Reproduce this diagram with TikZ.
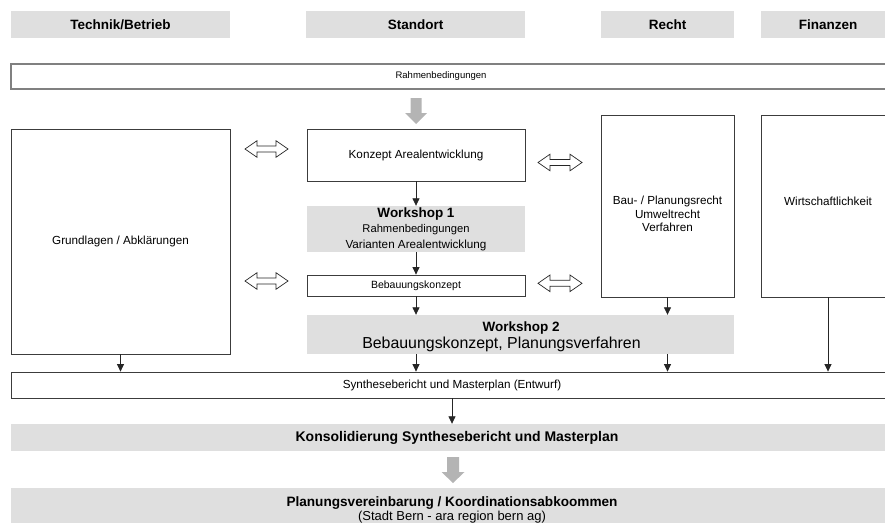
\documentclass[tikz,border=0pt]{standalone}
\usepackage{fontspec}
\setmainfont{Liberation Sans}
\usetikzlibrary{arrows.meta}
\definecolor{boxgray}{RGB}{223,223,223}
\definecolor{arrgray}{RGB}{180,180,180}
\definecolor{edgecol}{RGB}{60,60,60}
\newcommand{\fsz}[2]{\fontsize{#1}{#2}\selectfont}
\begin{document}
\begin{tikzpicture}[x=1pt,y=-1pt,
  hdr/.style={fill=boxgray, draw=none, inner sep=0pt, minimum height=27pt, font=\fsz{13.5}{16}\bfseries},
  wbox/.style={draw=edgecol, line width=0.8pt, fill=white, inner sep=0pt, align=center, font=\fsz{11.7}{14}},
  gbox/.style={fill=boxgray, draw=none, inner sep=0pt, align=center},
  lbl/.style={inner sep=0pt, align=center, font=\fsz{11.7}{13.3}},
  arr/.style={-{Triangle[width=7pt,length=7.5pt]}, line width=0.8pt, draw=black!85},
  dblarr/.style={draw=black!85, line width=0.7pt, fill=white, line join=miter},
  blockarr/.style={fill=arrgray, draw=none}]
\useasboundingbox (0,0) rectangle (885,522);

% column headers
\node[hdr, minimum width=219pt] (h1) at (120.5,24.5) {Technik/Betrieb};
\node[hdr, minimum width=219pt] (h2) at (415.5,24.5) {Standort};
\node[hdr, minimum width=133pt] (h3) at (667.5,24.5) {Recht};
\node[hdr, minimum width=169pt] (h4) at (845.5,24.5) {};
\node[lbl, font=\fsz{13.5}{16}\bfseries] (h4text) at (828,24.5) {Finanzen};

% Rahmenbedingungen
\node[wbox, draw=black!50, line width=1.2pt, minimum width=919pt, minimum height=25pt] (rahmen) at (470.5,76.5) {};
\node[lbl, font=\fsz{9.5}{11}] (rahmentext) at (441,76.5) {Rahmenbedingungen};

% boxes
\node[wbox, minimum width=219pt, minimum height=225pt] (grund) at (120.5,241.5) {Grundlagen / Abkl\"arungen};
\node[wbox, minimum width=218pt, minimum height=52pt] (konzept) at (416,155) {Konzept Arealentwicklung};
\node[gbox, minimum width=218pt, minimum height=46pt, font=\fsz{11.7}{15.5}] (ws1) at (416,229)
  {{\fsz{13.5}{15}\bfseries Workshop 1}\\{\fsz{11.2}{15.5}Rahmenbedingungen}\\Varianten Arealentwicklung};
\node[wbox, minimum width=218pt, minimum height=21pt, font=\fsz{10.5}{12}] (beb) at (416,285.5) {Bebauungskonzept};
\node[gbox, minimum width=427pt, minimum height=39pt] (ws2) at (520.5,334.5) {};
\node[lbl, font=\fsz{13.5}{15}\bfseries] (ws2a) at (521,328.3) {Workshop 2};
\node[lbl, font=\fsz{15.9}{16}] (ws2b) at (501.5,344) {Bebauungskonzept, Planungsverfahren};
\node[wbox, minimum width=133pt, minimum height=182pt] (bau) at (667.5,206) {};
\node[lbl] (bautext) at (667.5,214) {Bau- / Planungsrecht\\Umweltrecht\\Verfahren};
\node[wbox, minimum width=169pt, minimum height=182pt] (wirt) at (845.5,206) {};
\node[lbl] (wirttext) at (828,201) {Wirtschaftlichkeit};

\node[wbox, minimum width=919pt, minimum height=26pt] (synth) at (470.5,385) {};
\node[lbl] (synthtext) at (452,385) {Synthesebericht und Masterplan (Entwurf)};
\node[gbox, minimum width=919pt, minimum height=27pt] (konsol) at (470.5,437.5) {};
\node[lbl, font=\fsz{14}{16}\bfseries] (konsoltext) at (457,437.5) {Konsolidierung Synthesebericht und Masterplan};
\node[gbox, minimum width=919pt, minimum height=44pt] (plan) at (470.5,510) {};
\node[lbl, font=\fsz{13}{13.7}] (plantext) at (452,510)
  {{\fsz{13.6}{13.7}\bfseries Planungsvereinbarung / Koordinationsabkoommen}\\(Stadt Bern - ara region bern ag)};

% black arrows
\draw[arr] (grund.south) -- (grund.south |- synth.north);
\draw[arr] (konzept.south) -- (ws1.north);
\draw[arr] (ws1.south) -- (beb.north);
\draw[arr] (beb.south) -- (beb.south |- ws2.north);
\draw[arr] (ws2.south -| beb.south) -- (beb.south |- synth.north);
\draw[arr] (bau.south) -- (bau.south |- ws2.north);
\draw[arr] (ws2.south -| bau.south) -- (bau.south |- synth.north);
\draw[arr] (wirttext |- wirt.south) -- (wirttext |- synth.north);
\draw[arr] (synthtext |- synth.south) -- (synthtext |- konsol.north);

% gray block arrows
\fill[blockarr] (410.5,98) -- (421.5,98) -- (421.5,113) -- (427,113) -- (416,124) -- (405,113) -- (410.5,113) -- cycle;
\fill[blockarr] (447,457) -- (459,457) -- (459,472) -- (464.5,472) -- (453,483) -- (441.5,472) -- (447,472) -- cycle;

% hollow double arrows
\foreach \xa/\xb/\yy in {245/288/149, 245/288/281, 538/582/162.5, 538/582/283.3}{
  \draw[dblarr] (\xa,\yy) -- (\xa+12,\yy-8.3) -- (\xa+12,\yy-3) -- (\xb-12,\yy-3) -- (\xb-12,\yy-8.3)
    -- (\xb,\yy) -- (\xb-12,\yy+8.3) -- (\xb-12,\yy+3) -- (\xa+12,\yy+3) -- (\xa+12,\yy+8.3) -- cycle;
}
\end{tikzpicture}
\end{document}
